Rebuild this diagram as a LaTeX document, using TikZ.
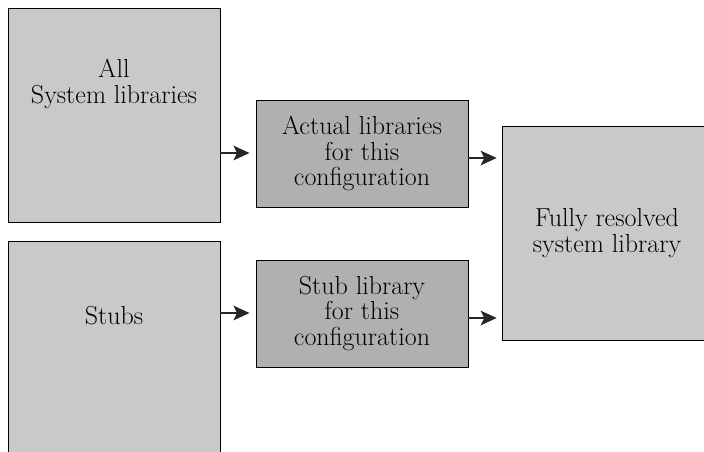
\documentclass[tikz,border=0pt]{standalone}
\usetikzlibrary{arrows.meta}
\begin{document}
\begin{tikzpicture}[x=0.025cm, y=-0.025cm,
	bigbox/.style={draw, line width=0.6pt, fill=gray!42, minimum width=5.3cm, minimum height=5.35cm, inner sep=0pt},
	smallbox/.style={draw, line width=0.6pt, fill=gray!62, minimum width=5.3cm, minimum height=2.675cm, align=center, inner sep=0pt},
	boxtext/.style={align=center, inner sep=0pt},
	arr/.style={-{Stealth[length=4mm,width=3.6mm,inset=0.9mm]}, line width=1.8pt, black!85},
	font=\fontsize{18.5}{18.2}\selectfont]
	\useasboundingbox (0,0) rectangle (704,452);

	\node[bigbox] (sys) at (114,115) {};
	\node[boxtext] (syst) at (114,84) {All\\System libraries};
	\node[bigbox] (stubs) at (114,348) {};
	\node[boxtext] (stubst) at (114,316) {Stubs};
	\node[smallbox] (act) at (362,153.5) {Actual libraries\\for this\\configuration};
	\node[smallbox] (stublib) at (362,313.5) {Stub library\\for this\\configuration};
	\node[bigbox, minimum width=5.25cm, align=center] (full) at (607,233) {Fully resolved\\system library};

	\draw[arr] (sys.east |- 0,153) -- ([xshift=-0.15cm]act.west |- 0,153);
	\draw[arr] (stubs.east |- 0,313) -- ([xshift=-0.15cm]stublib.west |- 0,313);
	\draw[arr] (act.east |- 0,158) -- ([xshift=-0.12cm]full.west |- 0,158);
	\draw[arr] (stublib.east |- 0,318) -- ([xshift=-0.12cm]full.west |- 0,318);
\end{tikzpicture}
\end{document}
